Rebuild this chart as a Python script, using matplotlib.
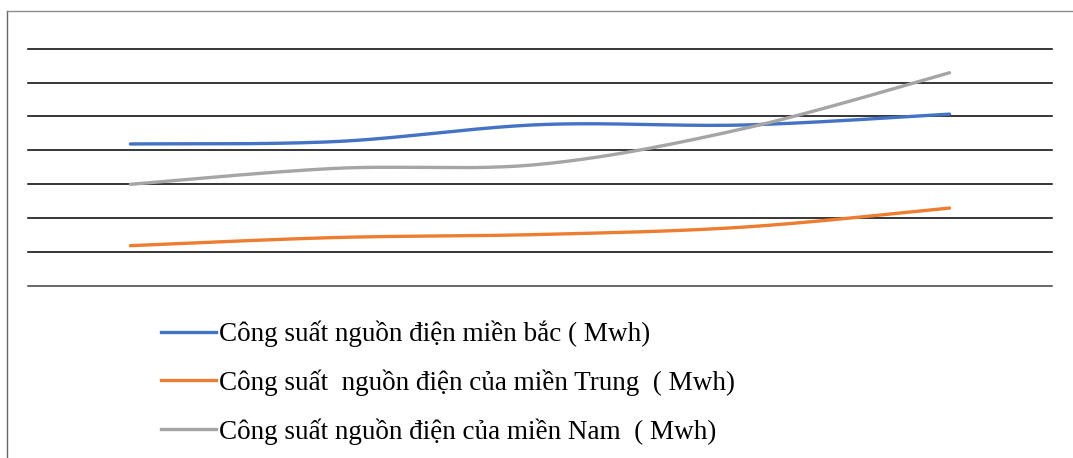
import numpy as np
import matplotlib
matplotlib.use("Agg")
import matplotlib.pyplot as plt
from matplotlib.lines import Line2D

# Category positions (years/periods, unlabeled in the source chart)
categories = [0, 1, 2, 3, 4]

# Values in gridline units (axis labels are hidden in the source)
mien_bac = [4.19, 4.26, 4.76, 4.75, 5.07]
mien_trung = [1.19, 1.43, 1.52, 1.74, 2.30]
mien_nam = [3.00, 3.47, 3.59, 4.65, 6.29]

labels = [
    "Công suất nguồn điện miền bắc ( Mwh)",
    "Công suất  nguồn điện của miền Trung  ( Mwh)",
    "Công suất nguồn điện của miền Nam  ( Mwh)",
]
colors = ["#4472C4", "#ED7D31", "#A5A5A5"]


def smooth(x, y, n=40):
    """Catmull-Rom style smoothing, like Excel's smoothed line"""
    x = np.asarray(x, float)
    y = np.asarray(y, float)
    px = np.concatenate([[x[0]], x, [x[-1]]])
    py = np.concatenate([[y[0]], y, [y[-1]]])
    xs, ys = [], []
    t = np.linspace(0, 1, n)
    for i in range(1, len(px) - 2):
        p0, p1, p2, p3 = (np.array([px[j], py[j]]) for j in (i - 1, i, i + 1, i + 2))
        c1 = p1 + (p2 - p0) / 6
        c2 = p2 - (p3 - p1) / 6
        b = ((1 - t) ** 3)[:, None] * p1 + (3 * (1 - t) ** 2 * t)[:, None] * c1 \
            + (3 * (1 - t) * t ** 2)[:, None] * c2 + (t ** 3)[:, None] * p2
        xs.append(b[:, 0])
        ys.append(b[:, 1])
    return np.concatenate(xs), np.concatenate(ys)


fig = plt.figure(figsize=(10.73, 4.58), dpi=100)
ax = fig.add_axes([0.0261, 0.3755, 0.9543, 0.5182])

for i in range(0, 8):
    ax.axhline(i, color="#000000" if i > 0 else "#404040", linewidth=1.1,
               zorder=1, clip_on=False)

handles = []
for vals, c, lab in zip([mien_bac, mien_trung, mien_nam], colors, labels):
    sx, sy = smooth(categories, vals)
    ax.plot(sx, sy, color=c, linewidth=2.4, solid_capstyle="round", zorder=3)
    handles.append(Line2D([], [], color=c, linewidth=2.4, label=lab))

ax.set_xlim(-0.5, 4.5)
ax.set_ylim(0, 7)
ax.axis("off")

# outer chart border (cropped at right/bottom)
fig.add_artist(Line2D([7 / 1073, 7 / 1073], [0, 1 - 11 / 458],
                      transform=fig.transFigure, color="#666666", linewidth=1.0))
fig.add_artist(Line2D([7 / 1073, 1], [1 - 11 / 458, 1 - 11 / 458],
                      transform=fig.transFigure, color="#8c8c8c", linewidth=1.0))

fig.legend(handles=handles, loc="upper left", bbox_to_anchor=(0.150, 0.300),
           bbox_transform=fig.transFigure, frameon=False, borderpad=0,
           borderaxespad=0, handlelength=2.05, handletextpad=0.1,
           labelspacing=0.82,
           prop={"family": "Liberation Serif", "size": 19.5})

fig.savefig("out.png", dpi=100)
